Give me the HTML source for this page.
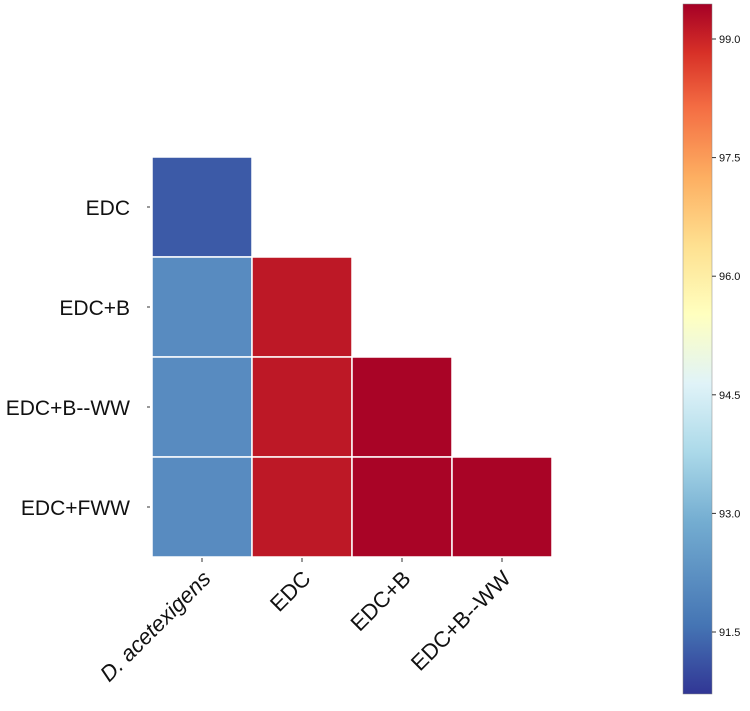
<!DOCTYPE html>
<html><head><meta charset="utf-8"><style>
body{margin:0;background:#fff;width:750px;height:706px;overflow:hidden}
text{font-family:"Liberation Sans",sans-serif;fill:#111}
</style></head><body>
<svg id="chart" width="750" height="706" xmlns="http://www.w3.org/2000/svg">
<defs><linearGradient id="cbg" x1="0" y1="1" x2="0" y2="0">
<stop offset="0" stop-color="#313695"/><stop offset="0.1" stop-color="#4575b4"/><stop offset="0.25" stop-color="#74add1"/><stop offset="0.35" stop-color="#abd9e9"/><stop offset="0.45" stop-color="#e0f3f8"/><stop offset="0.55" stop-color="#ffffbf"/><stop offset="0.65" stop-color="#fee090"/><stop offset="0.75" stop-color="#fdae61"/><stop offset="0.85" stop-color="#f46d43"/><stop offset="0.93" stop-color="#d73027"/><stop offset="1" stop-color="#a50026"/>
</linearGradient></defs>
<g id="cells"></g><g id="axes"></g>
<rect x="683" y="4" width="29" height="690" fill="url(#cbg)" stroke="#888" stroke-width="0.5"/>
<g id="cbticks"></g>
</svg>
<script>
const rowLabels=["EDC","EDC+B","EDC+B--WW","EDC+FWW"];
const colLabels=["D. acetexigens","EDC","EDC+B","EDC+B--WW"];
const row0=[91.2];
const row1=[92.1,99.15];
const row2=[92.1,99.15,99.4];
const row3=[92.1,99.15,99.4,99.4];
const cbTicks=[99.0,97.5,96.0,94.5,93.0,91.5];
const rows=[row0,row1,row2,row3];
const NS="http://www.w3.org/2000/svg";
const x0=152,y0=157,cw=100,ch=100;
const vmin=90.7,vmax=99.45;
function colorFor(v){
 const stops=[[0,"#313695"],[0.1,"#4575b4"],[0.25,"#74add1"],[0.35,"#abd9e9"],[0.45,"#e0f3f8"],[0.55,"#ffffbf"],[0.65,"#fee090"],[0.75,"#fdae61"],[0.85,"#f46d43"],[0.93,"#d73027"],[1,"#a50026"]];
 let t=Math.max(0,Math.min(1,(v-vmin)/(vmax-vmin)));
 for(let i=1;i<stops.length;i++){if(t<=stops[i][0]){const a=stops[i-1],b=stops[i];const f=(t-a[0])/(b[0]-a[0]);
 const p=s=>[1,3,5].map(k=>parseInt(s.substr(k,2),16));const A=p(a[1]),B=p(b[1]);
 return "rgb("+A.map((c,j)=>Math.round(c+(B[j]-c)*f)).join(",")+")";}}
 return "#a50026";
}
function cbY(v){return 39+(99.0-v)*(593/7.5);}
const cells=document.getElementById("cells"),axes=document.getElementById("axes"),cbt=document.getElementById("cbticks");
rows.forEach((r,i)=>r.forEach((v,j)=>{
 const e=document.createElementNS(NS,"rect");
 
 
 e.setAttribute("x",x0+j*cw);e.setAttribute("y",y0+i*ch);e.setAttribute("width",cw);e.setAttribute("height",ch);
 e.setAttribute("fill",colorFor(v));e.setAttribute("stroke","#fff");e.setAttribute("stroke-width","1.5");
 cells.appendChild(e);
}));
rowLabels.forEach((l,i)=>{
 const t=document.createElementNS(NS,"text");
 
 
 const y=y0+i*ch+ch/2;
 t.setAttribute("x",130);t.setAttribute("y",y+8);t.setAttribute("text-anchor","end");t.setAttribute("font-size","21");
 t.textContent=l;axes.appendChild(t);
 const k=document.createElementNS(NS,"line");
 
 
 k.setAttribute("x1",147);k.setAttribute("x2",150);k.setAttribute("y1",y);k.setAttribute("y2",y);k.setAttribute("stroke","#333");
 axes.appendChild(k);
});
colLabels.forEach((l,j)=>{
 const x=x0+j*cw+cw/2;
 const k=document.createElementNS(NS,"line");
 
 
 k.setAttribute("x1",x);k.setAttribute("x2",x);k.setAttribute("y1",558);k.setAttribute("y2",562);k.setAttribute("stroke","#333");
 axes.appendChild(k);
 const t=document.createElementNS(NS,"text");
 
 
 t.setAttribute("text-anchor","end");t.setAttribute("font-size","22");
 t.setAttribute("transform","translate("+(x+10)+",580) rotate(-45)");
 if(j===0){t.innerHTML='<tspan font-style="italic">D. acetexigens</tspan>';}else t.textContent=l;
 axes.appendChild(t);
});
cbTicks.forEach(v=>{
 const y=cbY(v);
 const k=document.createElementNS(NS,"line");
 
 
 k.setAttribute("x1",712);k.setAttribute("x2",716);k.setAttribute("y1",y);k.setAttribute("y2",y);k.setAttribute("stroke","#333");
 cbt.appendChild(k);
 const t=document.createElementNS(NS,"text");
 
 
 t.setAttribute("x",719);t.setAttribute("y",y+4);t.setAttribute("font-size","11");
 t.textContent=v.toFixed(1);cbt.appendChild(t);
});
</script>
</body></html>
